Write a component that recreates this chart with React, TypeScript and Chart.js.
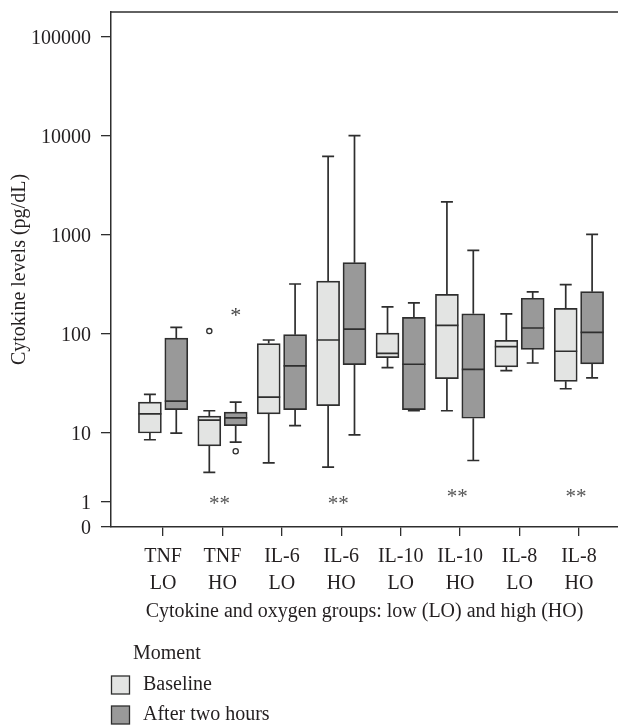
import React, { useEffect, useRef } from 'react';
import { Chart, registerables } from 'chart.js';

Chart.register(...registerables);

// ---------- data ----------
const CATEGORIES: string[][] = [
  ['TNF', 'LO'], ['TNF', 'HO'], ['IL-6', 'LO'], ['IL-6', 'HO'],
  ['IL-10', 'LO'], ['IL-10', 'HO'], ['IL-8', 'LO'], ['IL-8', 'HO'],
];
const Y_TICKS = [0, 1, 10, 100, 1000, 10000, 100000];

// Baseline (light boxes)
const baseMin = [8.0, 2.7, 3.7, 3.2, 45.7, 16.8, 42.6, 28];
const baseQ1 = [10, 6.5, 15.6, 18.9, 57.7, 35.4, 46.5, 33.3];
const baseMedian = [15.6, 13.5, 23.1, 87, 63.8, 122.5, 74.5, 67];
const baseQ3 = [20.5, 14.8, 80, 343, 102, 252, 86.5, 182];
const baseMax = [24.6, 16.8, 87, 6240, 188, 2158, 160, 315];

// After two hours (dark boxes)
const afterMin = [10, 7.4, 11.9, 9.4, 16.8, 4.0, 51, 36];
const afterQ1 = [17.2, 11.9, 17.2, 49, 17.2, 14.1, 70, 50];
const afterMedian = [21, 14.2, 47.6, 112, 49.5, 44, 115, 104];
const afterQ3 = [91, 16.3, 98.5, 526, 147.6, 160, 230, 268];
const afterMax = [117, 20.5, 320, 10090, 206, 701, 266, 1016];

// outliers: circles and extreme (*)
const baseOutlierCat = [1];
const baseOutlierVal = [107];
const afterOutlierCat = [1];
const afterOutlierVal = [5.45];
const afterExtremeCat = [1];
const afterExtremeVal = [172];

// significance marks "**"
const sigCat = [1, 3, 5, 7];
const sigVal = [1.1, 1.1, 1.38, 1.38];

// ---------- styling ----------
const FONT = '"Liberation Serif", "DejaVu Serif", serif';
const TEXT = '#231f20';
const STROKE = '#2e2e2e';
const LIGHT = '#e3e4e3';
const DARK = '#999999';
const OFF = 0.222;

// custom axis transform (log above 10, compressed below)
function tr(v: number): number {
  if (v >= 10) return Math.log10(v);
  if (v >= 1) return 1 - 0.697 * (1 - Math.log10(v));
  return 0.051 + v * (0.303 - 0.051);
}

const boxPlugin = {
  id: 'boxExtras',
  afterDatasetsDraw(chart: any) {
    const { ctx, scales, chartArea } = chart;
    const x = scales.x;
    const y = scales.y;
    ctx.save();
    ctx.strokeStyle = STROKE;
    ctx.lineWidth = 1.7;
    const series = [
      { off: -OFF, min: baseMin, q1: baseQ1, med: baseMedian, q3: baseQ3, max: baseMax },
      { off: OFF, min: afterMin, q1: afterQ1, med: afterMedian, q3: afterQ3, max: afterMax },
    ];
    const half = 11.5;
    const cap = 6;
    series.forEach((s) => {
      CATEGORIES.forEach((_, i) => {
        const cx = x.getPixelForValue(i + s.off);
        const pMin = y.getPixelForValue(tr(s.min[i]));
        const pQ1 = y.getPixelForValue(tr(s.q1[i]));
        const pMed = y.getPixelForValue(tr(s.med[i]));
        const pQ3 = y.getPixelForValue(tr(s.q3[i]));
        const pMax = y.getPixelForValue(tr(s.max[i]));
        ctx.beginPath();
        ctx.moveTo(cx, pQ3); ctx.lineTo(cx, pMax);
        ctx.moveTo(cx - cap, pMax); ctx.lineTo(cx + cap, pMax);
        ctx.moveTo(cx, pQ1); ctx.lineTo(cx, pMin);
        ctx.moveTo(cx - cap, pMin); ctx.lineTo(cx + cap, pMin);
        ctx.moveTo(cx - half, pMed); ctx.lineTo(cx + half, pMed);
        ctx.stroke();
      });
    });
    // top frame line
    ctx.lineWidth = 1.5;
    ctx.beginPath();
    ctx.moveTo(chartArea.left, chartArea.top);
    ctx.lineTo(chartArea.right, chartArea.top);
    ctx.stroke();

    // extreme values "*"
    ctx.fillStyle = '#444';
    ctx.font = `22px ${FONT}`;
    ctx.textAlign = 'center';
    ctx.textBaseline = 'alphabetic';
    afterExtremeCat.forEach((c, k) => {
      const px = x.getPixelForValue(c + OFF);
      const py = y.getPixelForValue(tr(afterExtremeVal[k]));
      ctx.fillText('*', px, py + 11);
    });
    // significance "**"
    ctx.fillStyle = '#555';
    ctx.font = `21px ${FONT}`;
    sigCat.forEach((c, k) => {
      const px = x.getPixelForValue(c - 0.05);
      const py = y.getPixelForValue(tr(sigVal[k]));
      ctx.fillText('**', px, py + 10.5);
    });
    ctx.restore();
  },
  afterDraw(chart: any) {
    const { ctx } = chart;
    ctx.save();
    ctx.font = `20px ${FONT}`;
    ctx.fillStyle = TEXT;
    ctx.textAlign = 'left';
    ctx.textBaseline = 'middle';
    ctx.fillText('Moment', 133, 654);
    const items = [
      { label: 'Baseline', color: LIGHT, cy: 685 },
      { label: 'After two hours', color: DARK, cy: 715 },
    ];
    items.forEach((it) => {
      ctx.fillStyle = it.color;
      ctx.fillRect(111.5, it.cy - 9, 18, 18);
      ctx.strokeStyle = STROKE;
      ctx.lineWidth = 1.3;
      ctx.strokeRect(111.5, it.cy - 9, 18, 18);
      ctx.fillStyle = TEXT;
      ctx.fillText(it.label, 143, it.cy);
    });
    ctx.restore();
  },
};

export default function App() {
  const ref = useRef<HTMLCanvasElement | null>(null);
  useEffect(() => {
    document.body.style.margin = '0';
    if (!ref.current) return;
    const chart = new Chart(ref.current, {
      type: 'bar',
      data: {
        datasets: [
          {
            type: 'bar',
            label: 'Baseline',
            data: CATEGORIES.map((_, i) => ({ x: i - OFF, y: [tr(baseQ1[i]), tr(baseQ3[i])] })) as any,
            backgroundColor: LIGHT,
            borderColor: STROKE,
            borderWidth: 1.7,
            borderSkipped: false,
            barThickness: 23,
            grouped: false,
          } as any,
          {
            type: 'bar',
            label: 'After two hours',
            data: CATEGORIES.map((_, i) => ({ x: i + OFF, y: [tr(afterQ1[i]), tr(afterQ3[i])] })) as any,
            backgroundColor: DARK,
            borderColor: STROKE,
            borderWidth: 1.7,
            borderSkipped: false,
            barThickness: 23,
            grouped: false,
          } as any,
          {
            type: 'scatter',
            label: 'outliers',
            data: [
              ...baseOutlierCat.map((c, k) => ({ x: c - OFF, y: tr(baseOutlierVal[k]) })),
              ...afterOutlierCat.map((c, k) => ({ x: c + OFF, y: tr(afterOutlierVal[k]) })),
            ],
            pointStyle: 'circle',
            pointRadius: 2.6,
            pointHoverRadius: 2.6,
            backgroundColor: '#ffffff',
            borderColor: STROKE,
            borderWidth: 1.3,
          } as any,
        ],
      },
      options: {
        responsive: false,
        animation: false,
        layout: { autoPadding: false, padding: { top: 12, right: 0, bottom: 0, left: 0 } },
        plugins: { legend: { display: false }, tooltip: { enabled: false } },
        scales: {
          x: {
            type: 'linear',
            offset: false,
            min: -0.877,
            max: 7.658,
            afterBuildTicks: (ax: any) => { ax.ticks = CATEGORIES.map((_, i) => ({ value: i })); },
            afterFit: (ax: any) => {
              ax.height = 199;
              ax.paddingLeft = 0;
              ax.paddingRight = 0;
            },
            ticks: {
              autoSkip: false,
              maxRotation: 0,
              padding: 7,
              color: TEXT,
              font: { family: FONT, size: 20, lineHeight: 1.35 },
              callback: (v: any) => CATEGORIES[Math.round(Number(v))],
            },
            grid: { offset: false, drawOnChartArea: false, drawTicks: true, tickLength: 9, color: STROKE, lineWidth: 1.3 },
            border: { display: true, color: STROKE, width: 1.5 },
            title: {
              display: true,
              text: 'Cytokine and oxygen groups: low (LO) and high (HO)',
              color: TEXT,
              font: { family: FONT, size: 20 },
              padding: { top: 0, bottom: 102 },
            },
          } as any,
          y: {
            type: 'linear',
            min: tr(0),
            max: 5.2525,
            afterBuildTicks: (ax: any) => { ax.ticks = Y_TICKS.map((v) => ({ value: tr(v) })); },
            afterFit: (ax: any) => {
              ax.width = 111;
              ax.paddingTop = 0;
              ax.paddingBottom = 0;
            },
            ticks: {
              autoSkip: false,
              padding: 10,
              labelOffset: 2,
              color: TEXT,
              font: { family: FONT, size: 20 },
              callback: (_v: any, idx: number) => String(Y_TICKS[idx]),
            },
            grid: { drawOnChartArea: false, drawTicks: true, tickLength: 10, color: STROKE, lineWidth: 1.3 },
            border: { display: true, color: STROKE, width: 1.5 },
            title: {
              display: true,
              text: 'Cytokine levels (pg/dL)',
              color: TEXT,
              font: { family: FONT, size: 20 },
              padding: { top: 8, bottom: 0 },
            },
          } as any,
        },
      },
      plugins: [boxPlugin],
    });
    return () => chart.destroy();
  }, []);
  return (
    <div style={{ width: 618, height: 726 }}>
      <canvas ref={ref} width={618} height={726} />
    </div>
  );
}
